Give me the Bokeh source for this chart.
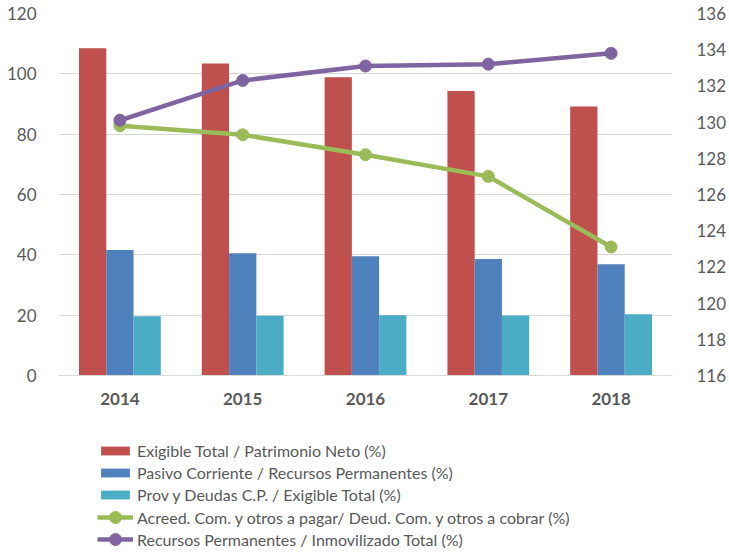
from bokeh.plotting import figure
from bokeh.models import (ColumnDataSource, FactorRange, Range1d, LinearAxis,
                          FixedTicker, Legend, LegendItem)
from bokeh.layouts import column
from bokeh.transform import dodge
from bokeh.embed import file_html
from bokeh.resources import INLINE

years = ["2014", "2015", "2016", "2017", "2018"]
exigible_pn = [108.5, 103.4, 98.9, 94.3, 89.2]
pasivo_rp = [41.6, 40.5, 39.5, 38.6, 36.9]
prov_exig = [19.6, 19.8, 20.0, 19.9, 20.3]
acreed_deud = [129.8, 129.3, 128.2, 127.0, 123.1]
rp_inmov = [130.1, 132.3, 133.1, 133.2, 133.8]

left_ticks = [0, 20, 40, 60, 80, 100, 120]
right_ticks = [116, 118, 120, 122, 124, 126, 128, 130, 132, 134, 136]

labels = ["Exigible Total / Patrimonio Neto (%)",
          "Pasivo Corriente / Recursos Permanentes (%)",
          "Prov y Deudas C.P. / Exigible Total (%)",
          "Acreed. Com. y otros a pagar/ Deud. Com. y otros a cobrar (%)",
          "Recursos Permanentes / Inmovilizado Total (%)"]

colors = ["#C0504D", "#4F81BD", "#4BACC6", "#9BBB59", "#8064A2"]

FONT = "Lato"
TXT = "#595959"


def draw_series(fig, src, rng):
    w = 0.222
    rs = []
    rs.append([fig.vbar(x=dodge("years", -w, range=rng), top="a", width=w, source=src,
                        fill_color=colors[0], line_color=None)])
    rs.append([fig.vbar(x=dodge("years", 0, range=rng), top="b", width=w, source=src,
                        fill_color=colors[1], line_color=None)])
    rs.append([fig.vbar(x=dodge("years", w, range=rng), top="c", width=w, source=src,
                        fill_color=colors[2], line_color=None)])
    for col, c in (("g", colors[3]), ("r", colors[4])):
        kw = dict(y_range_name="right") if "right" in fig.extra_y_ranges else {}
        ln = fig.line(x="years", y=col, source=src, line_color=c, line_width=4.5, **kw)
        sc = fig.scatter(x="years", y=col, source=src, size=12, fill_color=c, line_color=c, **kw)
        rs.append([ln, sc])
    return rs


src = ColumnDataSource(dict(years=years, a=exigible_pn, b=pasivo_rp, c=prov_exig,
                            g=acreed_deud, r=rp_inmov))

p = figure(x_range=FactorRange(*years, range_padding=0), y_range=Range1d(0, 120),
           width=729, height=425, output_backend="svg", toolbar_location=None,
           min_border_left=58, min_border_right=50, min_border_top=13, min_border_bottom=50)
p.extra_y_ranges = {"right": Range1d(116, 136)}
p.outline_line_color = None
draw_series(p, src, p.x_range)

p.yaxis.ticker = FixedTicker(ticks=left_ticks)
ax_r = LinearAxis(y_range_name="right", ticker=FixedTicker(ticks=right_ticks))
p.add_layout(ax_r, "right")

for ax in [p.yaxis[0], ax_r]:
    ax.axis_line_color = None
    ax.major_tick_line_color = None
    ax.minor_tick_line_color = None
    ax.major_label_text_font = FONT
    ax.major_label_text_font_size = "17px"
    ax.major_label_text_color = TXT
p.yaxis[0].major_label_standoff = 16
ax_r.major_label_standoff = 18

p.xaxis.axis_line_color = "#D9D9D9"
p.xaxis.major_tick_line_color = None
p.xaxis.minor_tick_line_color = None
p.xaxis.major_label_text_font = FONT
p.xaxis.major_label_text_font_size = "17px"
p.xaxis.major_label_text_font_style = "bold"
p.xaxis.major_label_text_color = TXT
p.xaxis.major_label_standoff = 11

p.xgrid.grid_line_color = None
p.ygrid.grid_line_color = "#D9D9D9"
p.ygrid.grid_line_width = 1

# legend figure: hidden copies of the series, used only to draw legend swatches
leg = figure(width=729, height=129, output_backend="svg", toolbar_location=None,
             x_range=FactorRange(*years), y_range=Range1d(0, 1), min_border=0)
leg.axis.visible = False
leg.grid.visible = False
leg.outline_line_color = None
leg_rs = draw_series(leg, src, leg.x_range)
for group in leg_rs:
    for r in group:
        r.visible = False

common = dict(orientation="vertical", background_fill_alpha=0, border_line_color=None,
              inactive_fill_alpha=0, glyph_width=36, label_height=17,
              label_standoff=4, padding=0, margin=0,
              label_text_font=FONT, label_text_font_size="16px", label_text_color=TXT)

legend_bars = Legend(items=[LegendItem(label=labels[i], renderers=leg_rs[i]) for i in range(3)],
                     location=(39, 50), glyph_height=11, spacing=3, **common)
legend_green = Legend(items=[LegendItem(label=labels[3], renderers=leg_rs[3])],
                      location=(39, 22), glyph_height=30, spacing=0, **common)
legend_purple = Legend(items=[LegendItem(label=labels[4], renderers=leg_rs[4])],
                       location=(39, 0), glyph_height=30, spacing=0, **common)
leg.add_layout(legend_bars, "center")
leg.add_layout(legend_green, "center")
leg.add_layout(legend_purple, "center")

open("out.html", "w").write(file_html(column(p, leg, spacing=0), INLINE))
